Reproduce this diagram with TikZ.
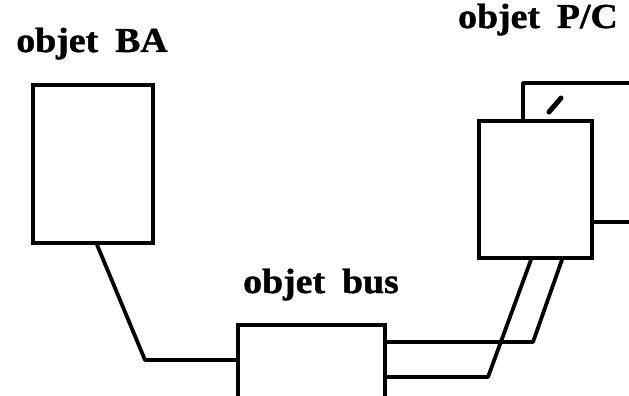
\documentclass[tikz,border=0pt]{standalone}
\usepackage{fontspec}
\setmainfont{Liberation Serif}[BoldFeatures={FakeBold=1.2}]
\usetikzlibrary{calc}
\newcommand{\objlabel}[1]{\scalebox{1.08}[1]{\textbf{#1}}}

\begin{document}
\begin{tikzpicture}[x=1pt,y=-1pt,
 obj/.style={draw,line width=3.4pt,minimum width=#1,inner sep=0pt},
 w/.style={line width=3.8pt,line join=round},
 lab/.style={font=\fontsize{35}{38}\selectfont,inner sep=0pt,anchor=base}]
\useasboundingbox (0,0) rectangle (629,396);
\clip (0,0) rectangle (629,396);
% labels
\node[lab] (lba) at (92,52) {\objlabel{objet\hspace{0.45em}BA}};
\node[lab] (lpc) at (538,28) {\objlabel{objet\hspace{0.45em}P/C}};
\node[lab] (lbus) at (321,293) {\objlabel{objet\hspace{0.45em}bus}};
% objects
\node[obj=120pt,minimum height=158pt] (ba) at (93,164) {};
\node[obj=147pt,minimum height=84pt] (bus) at (311.5,367) {};
\node[obj=113pt,minimum height=137pt] (pc) at (535.5,189.5) {};
% frame behind P/C
\coordinate (back) at (640,83);
\draw[w] (pc.north -| 523,0) |- (back);
\draw[w] (pc.east |- 0,222) -- (640,222);
\draw[line width=5pt,line cap=round] (549,112) -- (561,98);
% links
\draw[w] (ba.south -| 97,0) -- (145,360) -- (bus.west |- 0,360);
\draw[w] (bus.east |- 0,342) -- (533,342) -- (pc.south -| 562,0);
\draw[w] (bus.east |- 0,377) -- (488,377) -- (pc.south -| 531,0);
\end{tikzpicture}
\end{document}
